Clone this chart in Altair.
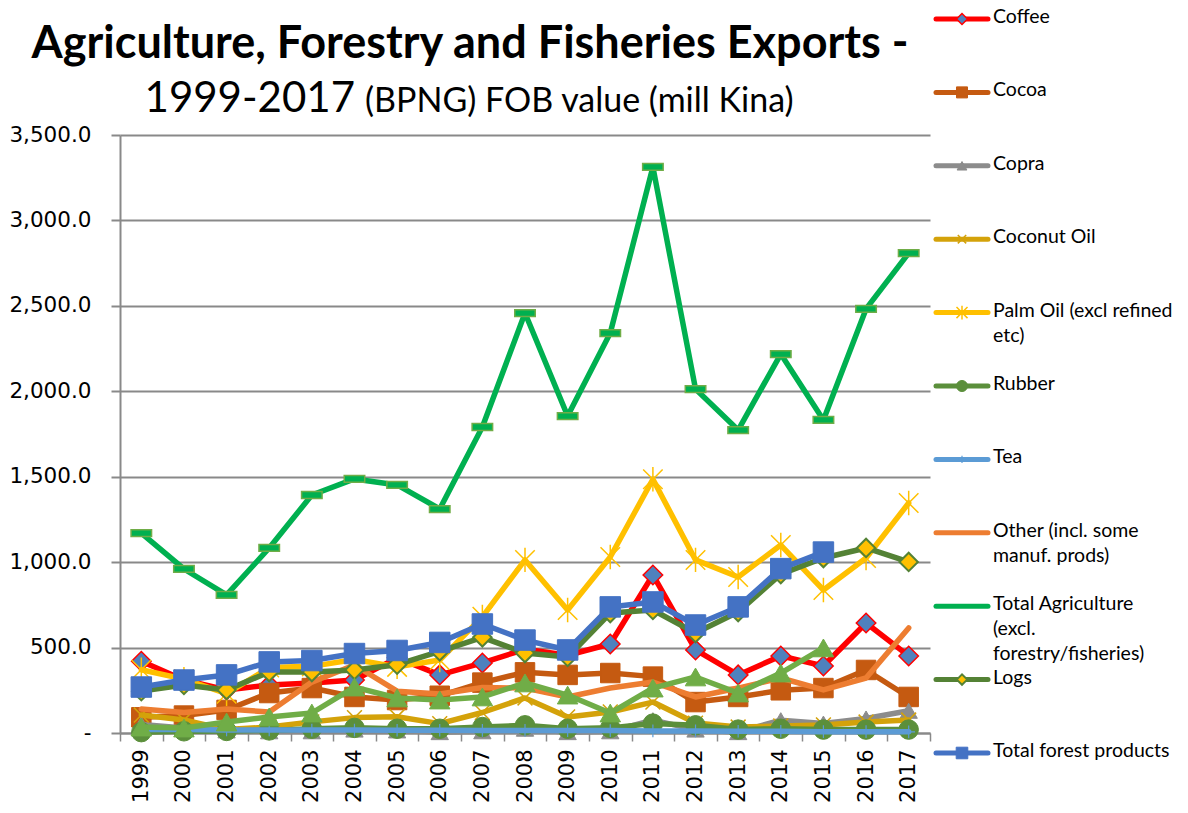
import altair as alt
import pandas as pd

years = [str(y) for y in range(1999, 2018)]

coffee = [420, 310, 252, 281, 293, 310, 440, 340, 410, 490, 455, 521, 925, 486, 340, 451, 392, 644, 451]
cocoa = [92, 102, 135, 234, 263, 211, 193, 218, 295, 355, 340, 351, 330, 181, 211, 250, 263, 369, 211]
copra = [50, 30, 15, 10, 10, 20, 15, 5, 10, 25, 5, 10, 75, 20, 5, 75, 55, 85, 130]
coconut_oil = [105, 76, 20, 35, 65, 90, 95, 55, 120, 205, 94, 123, 181, 58, 35, 41, 47, 64, 76]
palm_oil = [370, 315, 230, 383, 390, 430, 387, 427, 680, 1013, 720, 1030, 1485, 1013, 913, 1100, 837, 1024, 1346]
rubber = [5, 10, 12, 15, 25, 30, 25, 25, 35, 45, 25, 30, 55, 45, 20, 25, 20, 20, 20]
tea = [20, 20, 18, 18, 17, 17, 16, 16, 15, 15, 14, 14, 12, 12, 10, 10, 8, 8, 7]
other = [140, 120, 140, 123, 298, 398, 245, 228, 266, 263, 211, 263, 298, 211, 263, 322, 252, 322, 615]
total_ag = [1170, 960, 808, 1083, 1393, 1487, 1452, 1311, 1791, 2458, 1855, 2341, 3313, 2013, 1773, 2218, 1832, 2482, 2809]
logs = [245, 281, 252, 357, 357, 369, 400, 478, 560, 468, 445, 702, 720, 585, 708, 930, 1024, 1083, 1001]
forest = [269, 310, 340, 416, 424, 465, 483, 530, 638, 544, 486, 738, 767, 632, 738, 962, 1059, None, None]
marine = [35, 29, 64, 94, 117, 269, 205, 193, 211, 293, 222, 117, 263, 328, 234, 351, 498, None, None]

series_names = ["Coffee", "Cocoa", "Copra", "Coconut Oil", "Palm Oil (excl refined etc)", "Rubber", "Tea",
                "Other (incl. some manuf. prods)", "Total Agriculture (excl. forestry/fisheries)", "Logs",
                "Total forest products", "Marine products"]
series_values = [coffee, cocoa, copra, coconut_oil, palm_oil, rubber, tea, other, total_ag, logs, forest, marine]
legend_labels = ["Coffee", "Cocoa", "Copra", "Coconut Oil", "Palm Oil (excl refined\netc)", "Rubber", "Tea",
                 "Other (incl. some\nmanuf. prods)", "Total Agriculture\n(excl.\nforestry/fisheries)", "Logs",
                 "Total forest products"]

rows = []
for name, vals in zip(series_names, series_values):
    for y, v in zip(years, vals):
        if v is not None:
            rows.append({"series": name, "year": y, "value": v})
df = pd.DataFrame(rows)

X_PATH = "M-1,-1L1,1M1,-1L-1,1"
STAR_PATH = "M-1,-1L1,1M1,-1L-1,1M0,-1.25L0,1.25"
PLUS_PATH = "M-1,0L1,0M0,-1L0,1"
DASH_PATH = "M-1,-0.33L1,-0.33L1,0.33L-1,0.33Z"

# style per series: line color, marker shape, fill, stroke, filled, size, strokeWidth
styles = {
    "Coffee": ("#FF0000", "diamond", "#4F81BD", "#FF0000", True, 380, 1.5),
    "Cocoa": ("#C55A11", "square", "#C55A11", "#C55A11", True, 380, 1),
    "Copra": ("#8C8C8C", "triangle-up", "#8C8C8C", "#8C8C8C", True, 300, 1),
    "Coconut Oil": ("#D4A20A", X_PATH, None, "#D4A20A", False, 220, 1.5),
    "Palm Oil (excl refined etc)": ("#FFC000", STAR_PATH, None, "#FFC000", False, 380, 1.5),
    "Rubber": ("#5B8F3B", "circle", "#5B8F3B", "#5B8F3B", True, 380, 1),
    "Tea": ("#5B9BD5", PLUS_PATH, None, "#5B9BD5", False, 160, 1.2),
    "Other (incl. some manuf. prods)": ("#ED7D31", None, None, None, True, 0, 0),
    "Total Agriculture (excl. forestry/fisheries)": ("#00B050", DASH_PATH, "#00B050", "#70AD47", True, 420, 1.5),
    "Logs": ("#548235", "diamond", "#FFC000", "#548235", True, 340, 2),
    "Total forest products": ("#4472C4", "square", "#4472C4", "#4472C4", True, 420, 1),
    "Marine products": ("#70AD47", "triangle-up", "#70AD47", "#70AD47", True, 420, 1),
}

x_enc = alt.X("year:O", sort=years,
              scale=alt.Scale(type="band", paddingInner=0, paddingOuter=0),
              axis=alt.Axis(title=None, labelAngle=-90, labelFont="DejaVu Sans", labelFontSize=21,
                            labelColor="#000000", labelPadding=8, domainColor="#898989", domainWidth=2,
                            tickColor="#898989", tickWidth=1.5, tickSize=8, tickBand="extent", grid=False))
y_enc = alt.Y("value:Q", scale=alt.Scale(domain=[0, 3500], nice=False, zero=True),
              axis=alt.Axis(title=None, values=[0, 500, 1000, 1500, 2000, 2500, 3000, 3500],
                            labelExpr="datum.value == 0 ? '-\u00a0\u00a0\u00a0\u00a0' : format(datum.value, ',.1f')",
                            labelFont="DejaVu Sans", labelFontSize=21.5, labelColor="#000000", labelPadding=20,
                            grid=True, gridColor="#898989", gridWidth=2, domainColor="#898989", domainWidth=2,
                            tickColor="#898989", tickWidth=2, tickSize=9))

base = alt.Chart(df)
layers = []
for name in series_names:
    col, shape, fill, stroke, filled, size, sw = styles[name]
    sub = base.transform_filter(alt.datum.series == name)
    layers.append(sub.mark_line(color=col, strokeWidth=5.5, strokeCap="round", strokeJoin="round")
                  .encode(x=x_enc, y=y_enc))
    if shape is not None:
        kw = dict(shape=shape, size=size, filled=filled, strokeWidth=sw, opacity=1)
        if filled:
            kw["fill"] = fill
        kw["stroke"] = stroke
        layers.append(sub.mark_point(**kw).encode(x=x_enc, y=y_enc))

# title
t1 = alt.Chart(pd.DataFrame({"t": ["Agriculture, Forestry  and Fisheries Exports -"]})).mark_text(
    font="Lato", fontWeight="bold", fontSize=45, align="center", baseline="alphabetic", color="#000000"
).encode(text="t:N", x=alt.value(350), y=alt.value(-77))
t2 = alt.Chart(pd.DataFrame({"t": ["1999-2017"]})).mark_text(
    font="Lato", fontSize=42, align="right", baseline="alphabetic", color="#000000"
).encode(text="t:N", x=alt.value(235), y=alt.value(-23))
t3 = alt.Chart(pd.DataFrame({"t": ["(BPNG) FOB value (mill Kina)"]})).mark_text(
    font="Lato", fontSize=34, align="left", baseline="alphabetic", color="#000000"
).encode(text="t:N", x=alt.value(245), y=alt.value(-23))

main = alt.layer(*layers, t1, t2, t3)

# legend
leg_names = series_names[:11]
leg_df = pd.DataFrame({"series": leg_names, "label": legend_labels})
leg_y = alt.Y("series:N", scale=alt.Scale(type="point", domain=leg_names, range=[-116, 618], padding=0), axis=None)
leg_layers = []
lb = alt.Chart(leg_df)
for name in leg_names:
    col, shape, fill, stroke, filled, size, sw = styles[name]
    sub = lb.transform_filter(alt.datum.series == name)
    leg_layers.append(sub.mark_rule(color=col, strokeWidth=5, strokeCap="round")
                      .encode(y=leg_y, x=alt.value(816), x2=alt.value(868)))
    if shape is not None and not name.startswith("Total Agriculture"):
        kw = dict(shape=shape, size=size * 0.32, filled=filled, strokeWidth=sw, opacity=1, stroke=stroke)
        if filled:
            kw["fill"] = fill
        leg_layers.append(sub.mark_point(**kw).encode(y=leg_y, x=alt.value(842)))
leg_layers.append(lb.mark_text(font="Lato", fontSize=19.5, align="left", baseline="top", dy=-11,
                               lineBreak="\n", lineHeight=25, color="#000000")
                  .encode(y=leg_y, x=alt.value(873), text="label:N"))
legend = alt.layer(*leg_layers)

chart = alt.layer(main, legend).resolve_scale(y="independent").properties(
    width=810, height=598,
    autosize=alt.AutoSizeParams(type="none"),
    padding={"left": 120, "top": 135, "right": 258, "bottom": 80},
).configure_view(stroke=None)

chart.save("out.html", embed_options={"renderer": "svg", "actions": False})
